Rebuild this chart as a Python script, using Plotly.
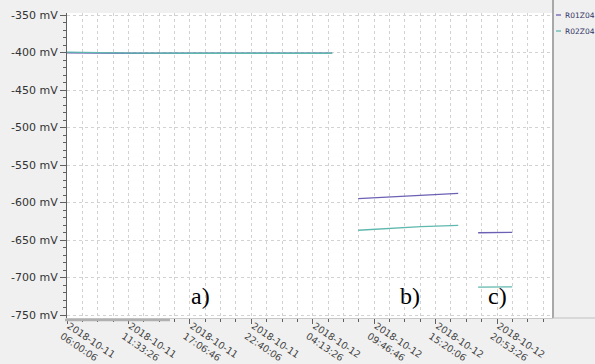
import plotly.graph_objects as go

# ---- data -------------------------------------------------------------
times_r01 = [
    "2018-10-11 06:00:06", "2018-10-11 09:00:00", "2018-10-11 12:00:00",
    "2018-10-11 18:00:00", "2018-10-12 00:00:00", "2018-10-12 05:59:00",
    "2018-10-12 07:00:00",
    "2018-10-12 08:20:00", "2018-10-12 11:00:00", "2018-10-12 14:00:00",
    "2018-10-12 17:23:00",
    "2018-10-12 18:00:00",
    "2018-10-12 19:11:00", "2018-10-12 22:16:00",
]
values_r01 = [
    -400.3, -400.8, -401.0, -401.0, -401.0, -401.0,
    None,
    -594.9, -592.8, -590.5, -587.8,
    None,
    -640.3, -639.7,
]
times_r02 = times_r01
values_r02 = [
    -399.4, -400.0, -400.9, -401.0, -401.0, -401.0,
    None,
    -637.0, -634.6, -632.2, -630.4,
    None,
    -712.7, -712.5,
]
series_names = ["R01Z04", "R02Z04"]
series_colors = ["#6b60b4", "#5fb8ad"]

x_tickvals = [
    "2018-10-11 06:00:06", "2018-10-11 11:33:26", "2018-10-11 17:06:46",
    "2018-10-11 22:40:06", "2018-10-12 04:13:26", "2018-10-12 09:46:46",
    "2018-10-12 15:20:06", "2018-10-12 20:53:26",
]
x_ticktext = [
    "2018-10-11<br>06:00:06", "2018-10-11<br>11:33:26", "2018-10-11<br>17:06:46",
    "2018-10-11<br>22:40:06", "2018-10-12<br>04:13:26", "2018-10-12<br>09:46:46",
    "2018-10-12<br>15:20:06", "2018-10-12<br>20:53:26",
]
y_tickvals = [-350, -400, -450, -500, -550, -600, -650, -700, -750]
y_ticktext = ["-350 mV", "-400 mV", "-450 mV", "-500 mV", "-550 mV",
              "-600 mV", "-650 mV", "-700 mV", "-750 mV"]

panel_labels = ["a)", "b)", "c)"]
panel_label_x = ["2018-10-11 18:07:00", "2018-10-12 13:02:00", "2018-10-12 20:54:00"]
panel_label_y = [-724.7, -724.7, -724.7]

# ---- figure -----------------------------------------------------------
L, R, T, B = 67, 42, 13, 46
W, H = 595, 364
plot_w = W - L - R
plot_h = H - T - B
FONT = "DejaVu Sans, Verdana, sans-serif"

fig = go.Figure()
for name, t, v, c in [(series_names[0], times_r01, values_r01, series_colors[0]),
                      (series_names[1], times_r02, values_r02, series_colors[1])]:
    fig.add_trace(go.Scatter(x=t, y=v, mode="lines", name=name,
                             line=dict(color=c, width=1.3),
                             connectgaps=False, hoverinfo="skip"))

grid_col = "#d2d2d2"
fig.update_layout(
    width=W, height=H,
    margin=dict(l=L, r=R, t=T, b=B),
    paper_bgcolor="#f0f0f0",
    plot_bgcolor="#ffffff",
    showlegend=False,
    font=dict(family=FONT, size=11, color="#333333"),
    xaxis=dict(
        type="date", automargin=False,
        range=["2018-10-11 06:00:00", "2018-10-13 01:57:15"],
        tickmode="array", tickvals=x_tickvals, ticktext=x_ticktext,
        tickangle=34, tickfont=dict(family=FONT, size=9.5, color="#444444"),
        ticklabelstandoff=-7, ticklabelshift=2,
        ticks="outside", ticklen=5, tickcolor="#606060",
        showgrid=True, gridcolor=grid_col, griddash="dot", gridwidth=1,
        showline=True, linecolor="#c8c8c8", linewidth=1,
        zeroline=False,
        minor=dict(tick0="2018-10-11 06:00:06", dtick=5000000,
                   showgrid=True, gridcolor=grid_col, griddash="dot",
                   ticks="outside", ticklen=3, tickcolor="#606060"),
    ),
    yaxis=dict(
        automargin=False,
        range=[-754, -347.3],
        tickmode="array", tickvals=y_tickvals, ticktext=y_ticktext,
        tickfont=dict(family=FONT, size=11, color="#333333"),
        ticks="outside", ticklen=6, tickcolor="#606060",
        showgrid=True, gridcolor=grid_col, griddash="dot", gridwidth=1,
        showline=True, linecolor="#606060", linewidth=1,
        zeroline=False,
        minor=dict(tick0=-350, dtick=10, ticks="outside", ticklen=3,
                   tickcolor="#606060", showgrid=False),
    ),
)

for lab, lx, ly in zip(panel_labels, panel_label_x, panel_label_y):
    fig.add_annotation(x=lx, y=ly, xref="x", yref="y", text=lab, showarrow=False,
                       font=dict(family="Liberation Serif, Times New Roman, serif",
                                 size=24, color="#000000"))

def px_x(p):
    return (p - L) / plot_w

def px_y(p):
    return 1 - (p - T) / plot_h

# scroll-bar like segment under the x axis
fig.add_shape(type="line", xref="paper", yref="paper", x0=px_x(65), x1=px_x(170),
              y0=px_y(320), y1=px_y(320), line=dict(color="#b0b0b0", width=2.5))

# legend panel separator lines
fig.add_shape(type="line", xref="paper", yref="paper", x0=px_x(553), x1=px_x(553),
              y0=px_y(318), y1=px_y(0), line=dict(color="#a8a8a8", width=2))
fig.add_shape(type="line", xref="paper", yref="paper", x0=px_x(553), x1=px_x(595),
              y0=px_y(318), y1=px_y(318), line=dict(color="#c0c0c0", width=1))

# manual legend
leg_y_px = [15, 31]
for name, col, ypx in zip(series_names, series_colors, leg_y_px):
    yp = px_y(ypx)
    fig.add_shape(type="line", xref="paper", yref="paper",
                  x0=px_x(556), x1=px_x(561), y0=yp, y1=yp,
                  line=dict(color=col, width=1.3))
    fig.add_annotation(x=px_x(563), y=yp, xref="paper", yref="paper",
                       xanchor="left", yanchor="middle", text=name, showarrow=False,
                       font=dict(family=FONT, size=7.5, color="#333366"))

fig.write_html(
    "out.html",
    config={"displayModeBar": False},
    post_script="document.body.style.margin='0';document.body.style.overflow='hidden';",
)
